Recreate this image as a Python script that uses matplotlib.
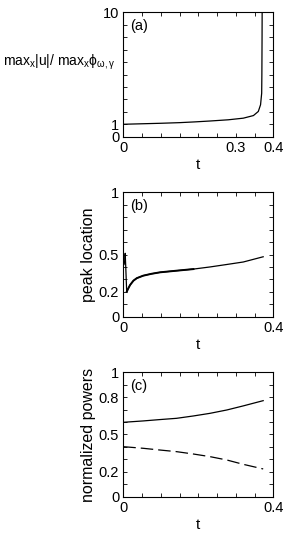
import matplotlib
matplotlib.use("Agg")
import matplotlib.pyplot as plt

plt.rcParams['font.family'] = ['Liberation Sans', 'DejaVu Sans']
plt.rcParams['mathtext.fontset'] = 'custom'
plt.rcParams['mathtext.rm'] = 'Liberation Sans'
plt.rcParams['mathtext.it'] = 'Liberation Sans:italic'
plt.rcParams['mathtext.sf'] = 'Liberation Sans'

# (a) max amplitude ratio vs t
a_t = [0.0, 0.05, 0.1, 0.15, 0.19, 0.23, 0.28, 0.32, 0.347, 0.36, 0.366, 0.369, 0.3695, 0.37, 0.3705]
a_u = [1.0, 1.04, 1.08, 1.13, 1.19, 1.26, 1.36, 1.49, 1.7, 2.03, 2.57, 3.5, 5.0, 8.0, 12.0]

# (b) peak location vs t
b_t = [0.002, 0.004, 0.005, 0.0065, 0.009, 0.012, 0.018, 0.027, 0.036, 0.053,
       0.075, 0.098, 0.142, 0.187, 0.231, 0.276, 0.32, 0.373]
b_x = [0.42, 0.45, 0.51, 0.40, 0.20, 0.22, 0.255, 0.29, 0.31, 0.33,
       0.345, 0.357, 0.37, 0.383, 0.40, 0.42, 0.44, 0.482]

# (c) normalized powers vs t
c_t = [0.0, 0.053, 0.098, 0.142, 0.187, 0.231, 0.276, 0.32, 0.373]
c_p1 = [0.598, 0.609, 0.62, 0.63, 0.649, 0.67, 0.697, 0.73, 0.772]
c_p2 = [0.402, 0.389, 0.375, 0.362, 0.343, 0.322, 0.295, 0.26, 0.223]

fig = plt.figure(figsize=(2.89, 5.38), dpi=100)
left, width, height = 0.4267, 0.519, 0.2312
ax_a = fig.add_axes([left, 0.7459, width, height])
ax_b = fig.add_axes([left, 0.4113, width, height])
ax_c = fig.add_axes([left, 0.0768, width, height])


def style(ax, yticks, ylabels, xlabels):
    xt = [i * 0.05 for i in range(9)]
    ax.set_xlim(0, 0.4)
    ax.set_xticks(xt)
    ax.set_xticklabels([xlabels.get(i, '') for i in range(9)])
    ax.set_yticks(yticks)
    ax.set_yticklabels(ylabels)
    ax.tick_params(direction='in', top=True, right=True, length=3, width=0.6,
                   labelsize=10.5, pad=3)
    for s in ax.spines.values():
        s.set_linewidth(0.8)
    ax.text(0.5, -0.23, 't', transform=ax.transAxes, ha='center', va='center', fontsize=11)


# panel (a)
ax_a.plot(a_t, a_u, color='black', lw=0.9)
ax_a.set_ylim(0, 10)
style(ax_a, list(range(11)), ['0', '1'] + [''] * 8 + ['10'], {0: '0', 6: '0.3', 8: '0.4'})
ax_a.text(0.045, 0.95, '(a)', transform=ax_a.transAxes, ha='left', va='top', fontsize=10.5)
fig.text(0.398, 1 - 62 / 538,
         r'max$_{\mathrm{x}}$|u|/ max$_{\mathrm{x}}\mathrm{\phi}_{\mathrm{\omega,\gamma}}$',
         ha='right', va='center', fontsize=10)

# panel (b)
ax_b.plot(b_t, b_x, color='black', lw=0.9)
ax_b.plot(b_t[4:14], b_x[4:14], color='black', lw=1.4)
ax_b.set_ylim(0, 1)
style(ax_b, [i / 10 for i in range(11)],
      ['0', '', '0.2', '', '', '0.5', '', '', '', '', '1'], {0: '0', 8: '0.4'})
ax_b.text(0.045, 0.95, '(b)', transform=ax_b.transAxes, ha='left', va='top', fontsize=10.5)
ax_b.text(-0.235, 0.5, 'peak location', transform=ax_b.transAxes, rotation=90,
          ha='center', va='center', fontsize=11.5)

# panel (c)
ax_c.plot(c_t, c_p1, color='black', lw=0.9)
ax_c.plot(c_t, c_p2, color='black', lw=0.9, dashes=(10, 4))
ax_c.set_ylim(0, 1)
style(ax_c, [i / 10 for i in range(11)],
      ['0', '', '0.2', '', '', '0.5', '', '', '0.8', '', '1'], {0: '0', 8: '0.4'})
ax_c.text(0.045, 0.95, '(c)', transform=ax_c.transAxes, ha='left', va='top', fontsize=10.5)
ax_c.text(-0.235, 0.5, 'normalized powers', transform=ax_c.transAxes, rotation=90,
          ha='center', va='center', fontsize=11.5)

fig.savefig('out.png', dpi=100)
